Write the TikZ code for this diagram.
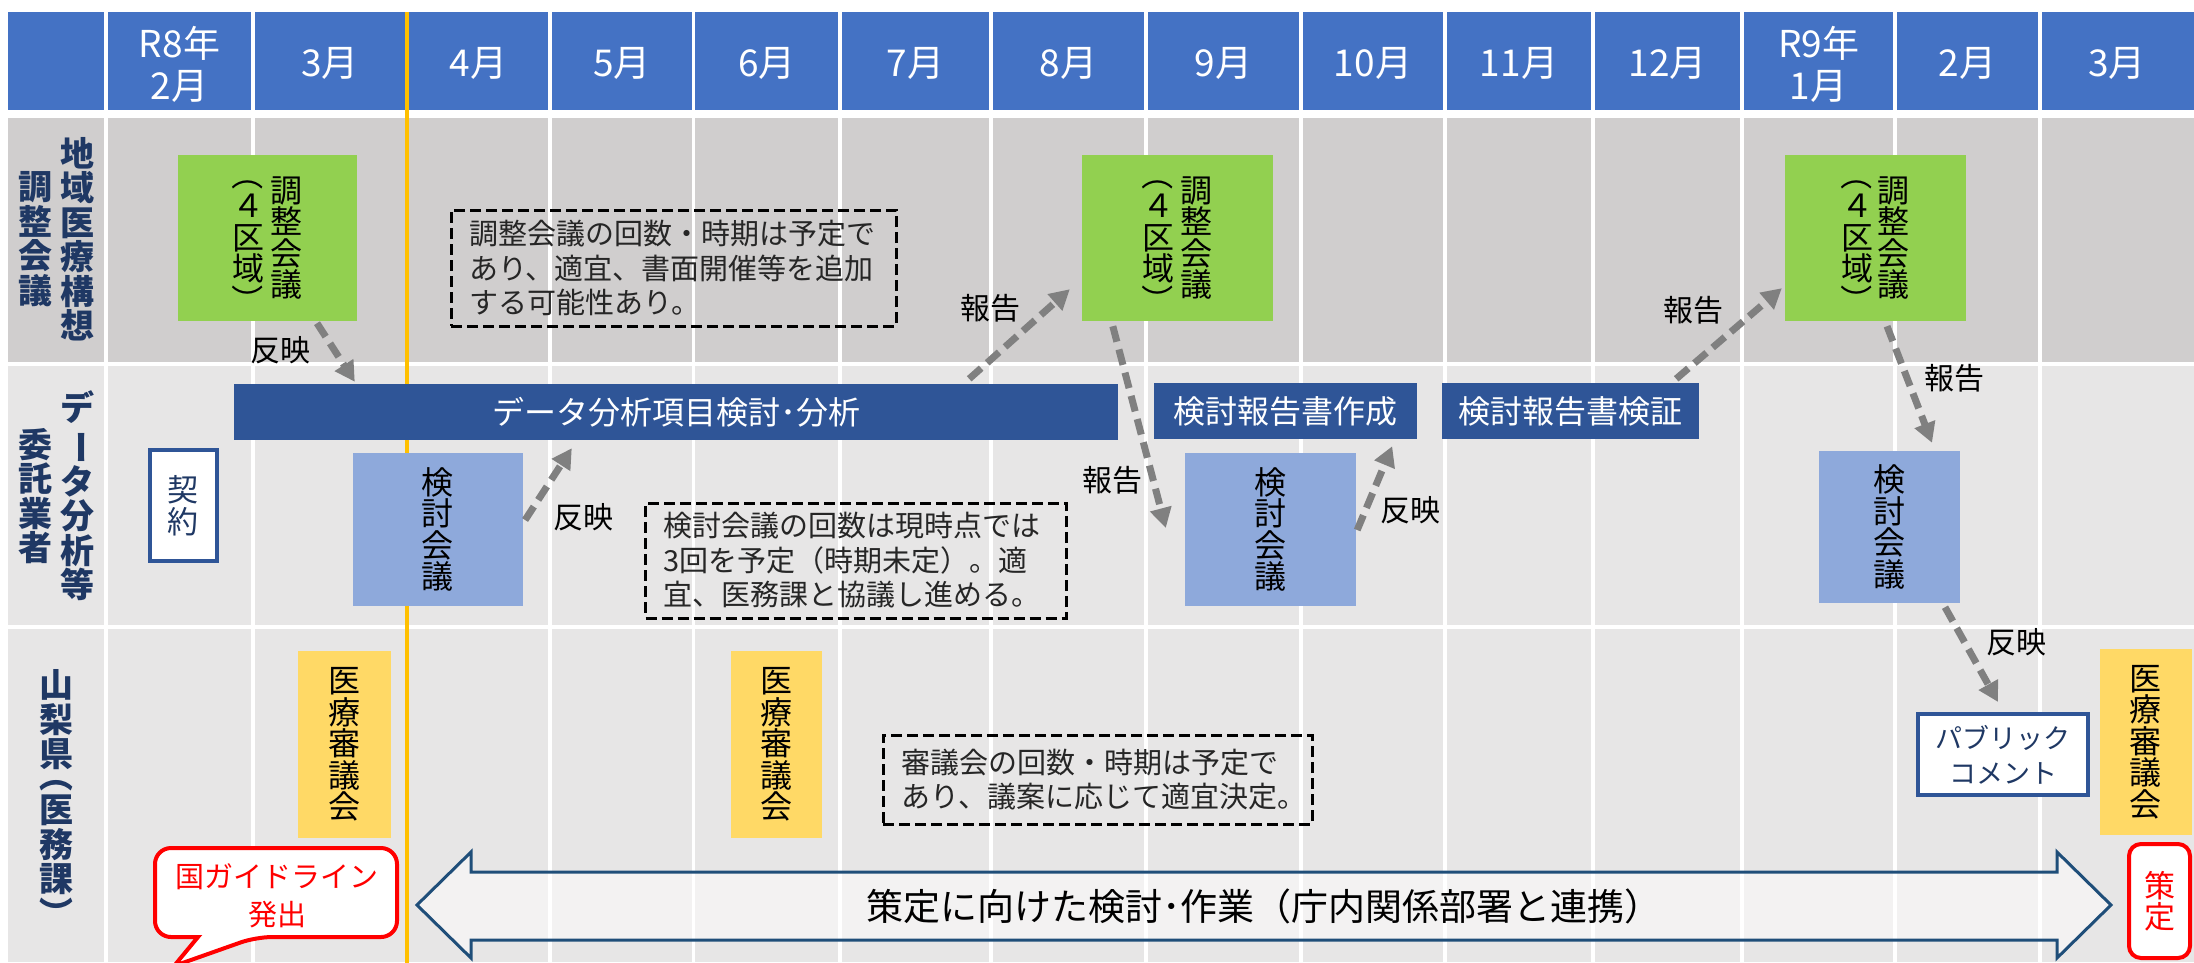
\documentclass[tikz,border=0pt]{standalone}
\usepackage{fontspec}
\setmainfont{Noto Sans CJK JP}
\usetikzlibrary{arrows.meta,calc}
\definecolor{cHdr}{HTML}{4472C4}
\definecolor{cDark}{HTML}{D0CECE}
\definecolor{cLight}{HTML}{E7E6E6}
\definecolor{cNavy}{HTML}{1F3864}
\definecolor{cBar}{HTML}{2F5597}
\definecolor{cLBlue}{HTML}{8EA9DB}
\definecolor{cGreen}{HTML}{92D050}
\definecolor{cYellow}{HTML}{FFD966}
\definecolor{cOrange}{HTML}{FFC000}
\definecolor{cGray}{HTML}{808080}
\definecolor{cBigArrow}{HTML}{1F4E79}
\definecolor{cRed}{HTML}{FF0000}
\newcommand{\myfs}[2]{\fontsize{#1}{#2}\selectfont}
\newcommand{\vcho}{\rotatebox[origin=c]{-90}{ー}}
\newcommand{\vlp}{\rotatebox[origin=c]{-90}{（}}
\newcommand{\vrp}{\rotatebox[origin=c]{-90}{）}}
\begin{document}
\begin{tikzpicture}[x=1pt,y=-1pt,
  hdrtxt/.style={text=white,font=\myfs{37}{42},align=center,inner sep=0pt},
  lbltxt/.style={text=cNavy,font=\bfseries\myfs{34}{34.5},align=center,inner sep=0pt},
  gbox/.style={fill=cGreen,inner sep=0pt},
  kbox/.style={fill=cLBlue,inner sep=0pt},
  ybox/.style={fill=cYellow,inner sep=0pt},
  barbox/.style={fill=cBar,text=white,font=\myfs{32}{34},inner sep=0pt},
  wbox/.style={draw=cBar,line width=4pt,fill=white,inner sep=0pt},
  vtxt/.style={text=black,font=\myfs{32}{31.5},align=center,inner sep=0pt},
  notebox/.style={draw=black,line width=3pt,dash pattern=on 11pt off 5pt,text=black!85,font=\myfs{29}{34.5},align=left,inner ysep=0pt},
  garrow/.style={draw=cGray,line width=7pt,dash pattern=on 16pt off 8pt,-{Triangle[length=20pt,width=21pt]}},
  lab/.style={text=black,font=\myfs{30}{32},inner sep=0pt}
]
\useasboundingbox (0,0) rectangle (2194,962);
% rows
\fill[cHdr] (8,12) rectangle (2194,110);
\fill[cDark] (8,118) rectangle (2194,362);
\fill[cLight] (8,365.5) rectangle (2194,625);
\fill[cLight] (8,628.5) rectangle (2194,962);
\foreach \x in {106,253,407,550,693.5,840,991,1146,1301,1445,1593,1742,1895,2040}
  \draw[white,line width=3.5pt] (\x,10) -- (\x,964);
\draw[cOrange,line width=4.5pt] (407,12) -- (407,964);
% header
\node[hdrtxt] (h1) at (179.5,64) {R8年\\2月};
\node[hdrtxt] (h2) at (330,63) {3月};
\node[hdrtxt] (h3) at (478.5,63) {4月};
\node[hdrtxt] (h4) at (622,63) {5月};
\node[hdrtxt] (h5) at (767,63) {6月};
\node[hdrtxt] (h6) at (915.5,63) {7月};
\node[hdrtxt] (h7) at (1068.5,63) {8月};
\node[hdrtxt] (h8) at (1223.5,63) {9月};
\node[hdrtxt] (h9) at (1373,63) {10月};
\node[hdrtxt] (h10) at (1519,63) {11月};
\node[hdrtxt] (h11) at (1667.5,63) {12月};
\node[hdrtxt] (h12) at (1818.5,64) {R9年\\1月};
\node[hdrtxt] (h13) at (1967.5,63) {2月};
\node[hdrtxt] (h14) at (2117,63) {3月};
% row labels
\node[lbltxt] (r1a) at (77,239) {地\\域\\医\\療\\構\\想};
\node[lbltxt] (r1b) at (35,239) {調\\整\\会\\議};
\node[lbltxt] (r2a) at (77,496) {デ\\\vcho\\タ\\分\\析\\等};
\node[lbltxt] (r2b) at (35,496) {委\\託\\業\\者};
\node[lbltxt] (r3) at (56,800) {山\\梨\\県\\[-13pt]\vlp\\医\\務\\課\\\vrp};
% green boxes
\node[gbox,minimum width=179pt,minimum height=166pt] (g1) at (267.5,238) {};
\node[gbox,minimum width=191pt,minimum height=166pt] (g2) at (1177.5,238) {};
\node[gbox,minimum width=181pt,minimum height=166pt] (g3) at (1875.5,238) {};
\node[vtxt] (g1t) at (286,238) {調\\整\\会\\議};
\node[vtxt] (g1p) at (248,237) {\vlp\\４\\区\\域\\\vrp};
\node[vtxt] (g2t) at (1196,238) {調\\整\\会\\議};
\node[vtxt] (g2p) at (1158,237) {\vlp\\４\\区\\域\\\vrp};
\node[vtxt] (g3t) at (1893,238) {調\\整\\会\\議};
\node[vtxt] (g3p) at (1857,237) {\vlp\\４\\区\\域\\\vrp};
% bars
\node[barbox,minimum width=884pt,minimum height=56pt] (b1) at (676,412) {データ分析項目検討･分析};
\node[barbox,minimum width=263pt,minimum height=56pt] (b2) at (1285.5,411) {検討報告書作成};
\node[barbox,minimum width=257pt,minimum height=56pt] (b3) at (1570.5,411) {検討報告書検証};
% study meetings
\node[kbox,vtxt,minimum width=170pt,minimum height=153pt] (kA) at (437.5,529.5) {検\\討\\会\\議};
\node[kbox,vtxt,minimum width=171pt,minimum height=153pt] (kB) at (1270.5,529.5) {検\\討\\会\\議};
\node[kbox,vtxt,minimum width=141pt,minimum height=152pt] (kC) at (1889.5,527) {検\\討\\会\\議};
\node[wbox,vtxt,text=cNavy,font=\myfs{31}{32},minimum width=66.5pt,minimum height=111pt] (k0) at (183.25,505.5) {契\\約};
% yellow boxes
\node[ybox,vtxt,minimum width=92.6pt,minimum height=187pt] (y1) at (344.3,744.5) {医\\療\\審\\議\\会};
\node[ybox,vtxt,minimum width=91.4pt,minimum height=187pt] (y2) at (776.3,744.5) {医\\療\\審\\議\\会};
\node[ybox,vtxt,minimum width=91.7pt,minimum height=186pt] (y3) at (2145.9,742) {医\\療\\審\\議\\会};
% public comment
\node[wbox,text=cNavy,font=\myfs{27}{35},align=center,minimum width=170pt,minimum height=81pt] (pc) at (2003,754.5) {パブリック\\コメント};
% sakutei
\node[draw=cRed,line width=4pt,fill=white,rounded corners=12pt,text=cRed,font=\myfs{31}{31},align=center,inner sep=0pt,minimum width=61pt,minimum height=114pt] (sd) at (2159.5,901) {策\\定};
% notes
\node[notebox,text width=409pt,inner xsep=18pt,minimum height=116pt] (n1) at (673.5,268) {調整会議の回数・時期は予定で\\あり、適宜、書面開催等を追加\\する可能性あり。};
\node[notebox,text width=386pt,inner xsep=17.5pt,minimum height=115pt] (n2) at (856,560.5) {検討会議の回数は現時点では\\3回を予定（時期未定）。適\\宜、医務課と協議し進める。};
\node[notebox,text width=392pt,inner xsep=18.5pt,minimum height=89pt] (n3) at (1097.5,779.5) {審議会の回数・時期は予定で\\あり、議案に応じて適宜決定。};
% callout
\draw[cRed,line width=4pt,fill=white] (155,892) [rounded corners=16pt] -- (155,848) -- (397,848) -- (397,937) -- (256,937) [sharp corners] -- (174,966) -- (198,937) [rounded corners=16pt] -- (155,937) -- cycle;
\node[text=cRed,font=\myfs{29}{38},align=center,inner sep=0pt] (cg) at (277,896) {国ガイドライン\\発出};
% big arrow
\draw[cBigArrow,line width=3pt,fill=white,fill opacity=0.5] (417,905) -- (471,852) -- (471,872) -- (2057,872) -- (2057,852) -- (2111,905) -- (2057,958) -- (2057,940) -- (471,940) -- (471,958) -- cycle;
\node[font=\myfs{37}{40},inner sep=0pt] (at) at (1264,906) {策定に向けた検討･作業（庁内関係部署と連携）};
% arrows
\draw[garrow] ($(g1.south)+(49.5,2)$) -- ($(b1.north west)+(121,-2)$);
\draw[garrow] ($(kA.east)+(2.4,-9.5)$) -- ($(b1.south west)+(338,8)$);
\draw[garrow] ($(b1.north east)+(-149,-5)$) -- ($(g2.south west)+(-12,-32)$);
\draw[garrow] ($(g2.south west)+(31,5)$) -- ($(kB.west)+(-19,-1.5)$);
\draw[garrow] ($(kB.east)+(1,0.5)$) -- ($(b2.south east)+(-25,7)$);
\draw[garrow] ($(b3.north east)+(-23,-4)$) -- ($(g3.south west)+(-3,-33)$);
\draw[garrow] ($(g3.south)+(11.5,5)$) -- ($(kC.north)+(42.5,-8)$);
\draw[garrow] ($(kC.south)+(55.5,4)$) -- ($(pc.north)+(-5,-10)$);
% labels
\node[lab] (l1) at (280,350) {反映};
\node[lab] (l2) at (583,517) {反映};
\node[lab] (l3) at (990,308) {報告};
\node[lab] (l4) at (1112,480) {報告};
\node[lab] (l5) at (1410,510) {反映};
\node[lab] (l6) at (1693,310) {報告};
\node[lab] (l7) at (1954,378) {報告};
\node[lab] (l8) at (2016,642) {反映};
\end{tikzpicture}
\end{document}
